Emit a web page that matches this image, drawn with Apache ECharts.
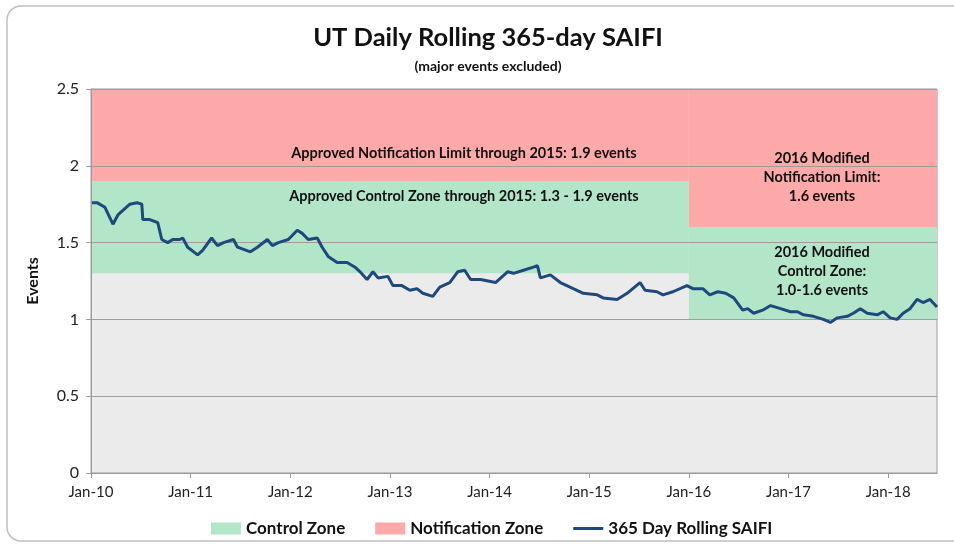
<!DOCTYPE html>
<html>
<head>
<meta charset="utf-8">
<script src="https://cdn.jsdelivr.net/npm/echarts@6/dist/echarts.min.js"></script>
<style>
  html, body { margin: 0; padding: 0; background: #fff; }
  #chart { width: 954px; height: 544px; }
</style>
</head>
<body>
<div id="chart"></div>
<script>
// decimal years
const years = [
  2010.01, 2010.06, 2010.14, 2010.22, 2010.27, 2010.32, 2010.39, 2010.46, 2010.51, 2010.52,
  2010.59, 2010.67, 2010.71, 2010.77, 2010.82, 2010.89, 2010.92, 2010.97, 2011.07, 2011.12,
  2011.21, 2011.27, 2011.33, 2011.43, 2011.47, 2011.60, 2011.67, 2011.77, 2011.82, 2011.88,
  2011.98, 2012.07, 2012.12, 2012.18, 2012.27, 2012.32, 2012.38, 2012.47, 2012.57, 2012.65,
  2012.70, 2012.77, 2012.83, 2012.88, 2012.98, 2013.03, 2013.12, 2013.20, 2013.27, 2013.33,
  2013.43, 2013.50, 2013.60, 2013.68, 2013.75, 2013.81, 2013.91, 2014.06, 2014.18, 2014.24,
  2014.34, 2014.44, 2014.48, 2014.51, 2014.61, 2014.71, 2014.84, 2014.94, 2015.08, 2015.14,
  2015.28, 2015.38, 2015.51, 2015.56, 2015.68, 2015.74, 2015.84, 2015.98, 2016.04, 2016.14,
  2016.21, 2016.29, 2016.37, 2016.45, 2016.54, 2016.59, 2016.65, 2016.74, 2016.82, 2016.92,
  2017.02, 2017.09, 2017.15, 2017.25, 2017.35, 2017.42, 2017.49, 2017.59, 2017.65, 2017.72,
  2017.79, 2017.89, 2017.95, 2018.02, 2018.09, 2018.15, 2018.22, 2018.29, 2018.35, 2018.42,
  2018.49
];
const saifi = [
  1.76, 1.76, 1.73, 1.62, 1.68, 1.71, 1.75, 1.76, 1.75, 1.65,
  1.65, 1.63, 1.52, 1.50, 1.52, 1.52, 1.53, 1.47, 1.42, 1.45,
  1.53, 1.48, 1.50, 1.52, 1.47, 1.44, 1.47, 1.52, 1.48, 1.50,
  1.52, 1.58, 1.56, 1.52, 1.53, 1.47, 1.41, 1.37, 1.37, 1.34,
  1.31, 1.26, 1.31, 1.27, 1.28, 1.22, 1.22, 1.19, 1.20, 1.17,
  1.15, 1.21, 1.24, 1.31, 1.32, 1.26, 1.26, 1.24, 1.31, 1.30,
  1.32, 1.34, 1.35, 1.27, 1.29, 1.24, 1.20, 1.17, 1.16, 1.14,
  1.13, 1.17, 1.24, 1.19, 1.18, 1.16, 1.18, 1.22, 1.20, 1.20,
  1.16, 1.18, 1.17, 1.14, 1.06, 1.07, 1.04, 1.06, 1.09, 1.07,
  1.05, 1.05, 1.03, 1.02, 1.00, 0.98, 1.01, 1.02, 1.04, 1.07,
  1.04, 1.03, 1.05, 1.01, 1.00, 1.04, 1.07, 1.13, 1.11, 1.13,
  1.08
];

// zones: before / after the 2016 change
const zoneStart = [2010, 2016];
const zoneEnd = [2016, 2018.49];
const controlLow = [1.3, 1.0];
const controlHigh = [1.9, 1.6];
const notifyHigh = [2.5, 2.5];

const yTicks = [0, 0.5, 1, 1.5, 2, 2.5];

const FONT = 'Lato, "Open Sans", sans-serif';

const chart = echarts.init(document.getElementById("chart"));

const controlAreas = zoneStart.map((s, i) => [
  { xAxis: s, yAxis: controlLow[i] },
  { xAxis: zoneEnd[i], yAxis: controlHigh[i] },
]);
const notifyAreas = zoneStart.map((s, i) => [
  { xAxis: s, yAxis: controlHigh[i] },
  { xAxis: zoneEnd[i], yAxis: notifyHigh[i] },
]);

// annotation text helper
function note(x, y, text, size) {
  return {
    type: "text",
    z: 10,
    x: x,
    y: y,
    style: {
      text: text,
      font: "bold " + size + "px " + FONT,
      lineHeight: 19,
      fill: "#111",
      textAlign: "center",
      textVerticalAlign: "middle",
    },
  };
}

const option = {
  animation: false,
  grid: {
    left: 91,
    right: 17,
    top: 89,
    bottom: 71,
    show: true,
    backgroundColor: "#ebebeb",
    borderColor: "#9c9c9c",
    borderWidth: 1,
  },
  xAxis: {
    type: "value",
    min: 2010,
    max: 2018.49,
    interval: 1,
    z: 2,
    axisLine: { lineStyle: { color: "#9c9c9c" } },
    axisTick: { length: 5, lineStyle: { color: "#9c9c9c" } },
    splitLine: { show: false },
    axisLabel: {
      showMaxLabel: false,
      margin: 12,
      color: "#222",
      fontFamily: FONT,
      fontSize: 15,
      formatter: (v) => (v % 1 === 0 ? "Jan-" + String(v).slice(2) : ""),
    },
  },
  yAxis: {
    type: "value",
    min: yTicks[0],
    max: yTicks[yTicks.length - 1],
    interval: 0.5,
    z: 2,
    name: "Events",
    nameLocation: "middle",
    nameGap: 50,
    nameTextStyle: { fontFamily: FONT, fontSize: 16, fontWeight: "bold", color: "#111" },
    axisLine: { show: true, lineStyle: { color: "#9c9c9c" } },
    axisTick: { show: true, length: 5, lineStyle: { color: "#9c9c9c" } },
    splitLine: { lineStyle: { color: "#9c9c9c", width: 1 } },
    axisLabel: { margin: 12, color: "#222", fontFamily: FONT, fontSize: 16 },
  },
  legend: {
    left: 206,
    top: 515,
    itemGap: 30,
    itemWidth: 30,
    itemHeight: 12,
    textStyle: { fontFamily: FONT, fontSize: 17, fontWeight: "bold", color: "#111" },
    data: [
      { name: "Control Zone", icon: "rect" },
      { name: "Notification Zone", icon: "rect" },
      { name: "365 Day Rolling SAIFI", icon: "path://M0 0H30V3H0Z" },
    ],
  },
  series: [
    {
      name: "Control Zone",
      type: "line",
      data: [],
      z: 1,
      color: "#b3e6c8",
      markArea: {
        silent: true,
        itemStyle: { color: "#b3e6c8", opacity: 1 },
        data: controlAreas,
      },
    },
    {
      name: "Notification Zone",
      type: "line",
      data: [],
      z: 1,
      color: "#fea9a9",
      markArea: {
        silent: true,
        itemStyle: { color: "#fea9a9", opacity: 1 },
        data: notifyAreas,
      },
    },
    {
      name: "365 Day Rolling SAIFI",
      type: "line",
      z: 5,
      symbol: "none",
      color: "#1f497d",
      lineStyle: { width: 3, color: "#1f497d" },
      data: years.map((y, i) => [y, saifi[i]]),
    },
  ],
  graphic: [
    {
      type: "rect",
      z: -10,
      shape: { x: 7, y: 6, width: 980, height: 535, r: 14 },
      style: { fill: "none", stroke: "#c0c0c0", lineWidth: 1.5 },
    },
    {
      type: "text",
      x: 488, y: 38,
      style: {
        text: "UT Daily Rolling 365-day SAIFI",
        font: "bold 25.5px " + FONT,
        fill: "#111", textAlign: "center", textVerticalAlign: "middle",
      },
    },
    {
      type: "text",
      x: 488, y: 66,
      style: {
        text: "(major events excluded)",
        font: "bold 14px " + FONT,
        fill: "#111", textAlign: "center", textVerticalAlign: "middle",
      },
    },
    note(464, 153, "Approved Notification Limit through 2015: 1.9 events", 14.5),
    note(464, 196, "Approved Control Zone through 2015: 1.3 - 1.9 events", 14.5),
    note(822, 177, "2016 Modified\nNotification Limit:\n1.6 events", 14.5),
    note(822, 271, "2016 Modified\nControl Zone:\n1.0-1.6 events", 14.5),
  ],
};

chart.setOption(option);
</script>
</body>
</html>
